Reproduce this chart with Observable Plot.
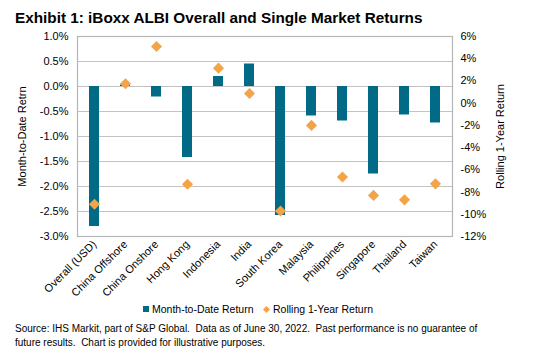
<!DOCTYPE html>
<html><head><meta charset="utf-8">
<script src="https://cdn.jsdelivr.net/npm/d3@7"></script>
<script src="https://cdn.jsdelivr.net/npm/@observablehq/plot@0.6"></script>
<style>
body{margin:0;width:548px;height:356px;position:relative;background:#fff;font-family:"Liberation Sans",Arial,sans-serif;color:#000;overflow:hidden}
#title{position:absolute;left:15px;top:9px;font-size:15.3px;font-weight:bold;white-space:nowrap}
#chart{position:absolute;left:0;top:28px}
#legend{position:absolute;top:303px;left:0;width:548px;font-size:10.5px;white-space:nowrap}
#legend .item{position:absolute;top:0}
#legend .sq{display:inline-block;width:6px;height:6px;background:#006a87;margin-right:3px;vertical-align:1px}
#legend .dm{display:inline-block;width:5px;height:5px;background:#f4a445;transform:rotate(45deg);margin-right:4px;vertical-align:1px}
#caption{position:absolute;left:15px;top:322px;font-size:10px;line-height:14px;white-space:nowrap}
</style></head><body>
<div id="title">Exhibit 1: iBoxx ALBI Overall and Single Market Returns</div>
<div id="chart"></div>
<div id="legend"><span class="item" style="left:143px"><span class="sq"></span>Month-to-Date Return</span><span class="item" style="left:264px"><span class="dm"></span>Rolling 1-Year Return</span></div>
<div id="caption">Source: IHS Markit, part of S&amp;P Global.&nbsp; Data as of June 30, 2022.&nbsp; Past performance is no guarantee of<br>future results.&nbsp; Chart is provided for illustrative purposes.</div>
<script>
const markets = ["Overall (USD)","China Offshore","China Onshore","Hong Kong","Indonesia","India","South Korea","Malaysia","Philippines","Singapore","Thailand","Taiwan"];
const mtdReturn = [-2.8, 0.03, -0.21, -1.42, 0.2, 0.45, -2.58, -0.59, -0.69, -1.75, -0.57, -0.73];
const rollingReturn = [-9.1, 1.75, 5.1, -7.3, 3.15, 0.87, -9.7, -2.0, -6.65, -8.3, -8.7, -7.26];
const leftTicks = [-3, -2.5, -2, -1.5, -1, -0.5, 0, 0.5, 1];
const rightTicks = [-12, -10, -8, -6, -4, -2, 0, 2, 4, 6];

const toLeft = r => (r + 12) / 18 * 4 - 3;
const fromLeft = v => (v + 3) / 4 * 18 - 12;
const data = markets.map((m, i) => ({market: m, mtd: mtdReturn[i], rolling: rollingReturn[i]}));

const chart = Plot.plot({
  width: 548, height: 278,
  marginTop: 8, marginBottom: 70, marginLeft: 77, marginRight: 96,
  style: {fontFamily: "Liberation Sans, Arial, sans-serif", fontSize: "11px", color: "#000", background: "transparent", overflow: "visible"},
  x: {domain: markets, paddingInner: 0.68, paddingOuter: 0.34},
  y: {domain: [-3, 1]},
  marks: [
    Plot.gridY(leftTicks, {stroke: "#c3c3c3", strokeOpacity: 1, strokeWidth: 1.2}),
    Plot.frame({stroke: "#b5b5b5", strokeWidth: 1.2}),
    Plot.barY(data, {x: "market", y: "mtd", fill: "#006a87"}),
    Plot.dot(data, {x: "market", y: d => toLeft(d.rolling), symbol: "diamond2", fill: "#f4a445", stroke: "none", r: 5}),
    Plot.axisY(leftTicks, {anchor: "left", tickSize: 0, tickPadding: 9, tickFormat: d => d.toFixed(1) + "%", label: null}),
    Plot.axisY(rightTicks.map(toLeft), {anchor: "right", tickSize: 0, tickPadding: 8, tickFormat: d => Math.round(fromLeft(d)) + "%", label: null}),
    Plot.axisX({tickRotate: -45, tickSize: 0, tickPadding: 6, label: null}),
    Plot.text(["Month-to-Date Retrn"], {frameAnchor: "left", dx: -55, rotate: -90, textAnchor: "middle", fontSize: 11}),
    Plot.text(["Rolling 1-Year Return"], {frameAnchor: "right", dx: 48, rotate: -90, textAnchor: "middle", fontSize: 11})
  ]
});
document.getElementById("chart").appendChild(chart);
</script>
</body></html>
